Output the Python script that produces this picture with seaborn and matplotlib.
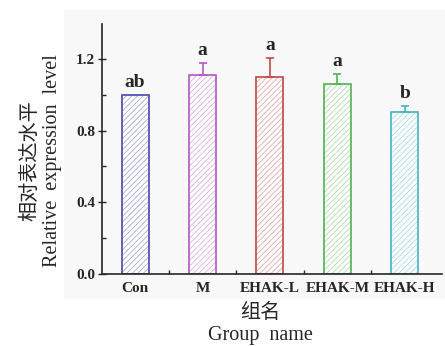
import matplotlib
matplotlib.use("Agg")
import matplotlib.pyplot as plt
import seaborn as sns
import pandas as pd
import numpy as np
from matplotlib.patches import Rectangle
from matplotlib.ticker import MultipleLocator

groups = ["Con", "M", "EHAK-L", "EHAK-M", "EHAK-H"]
values = [1.00, 1.11, 1.10, 1.062, 0.902]
errors = [0.0, 0.065, 0.107, 0.056, 0.034]
letters = ["ab", "a", "a", "a", "b"]
colors = ["#4b4bb0", "#b45ac4", "#c24a4a", "#52b452", "#45b4c4"]
hatch_colors = ["#a8a8dc", "#dcaee4", "#e4a8a8", "#aedcae", "#a6dce4"]

sns.set_style("ticks")
plt.rcParams["font.family"] = ["Liberation Serif", "Noto Sans CJK SC"]
plt.rcParams["hatch.linewidth"] = 0.6

fig = plt.figure(figsize=(4.45, 3.46), dpi=100)
fig.patch.set_facecolor("white")
fig.add_artist(Rectangle((64/445, 1-299/346), 1, 289/346, transform=fig.transFigure,
                         facecolor="#f8f8f8", edgecolor="none", zorder=0))
ax = fig.add_axes([102/445, 1-274/346, 340/445, 250/346])
ax.set_facecolor("none")

df = pd.DataFrame({"group": groups, "value": values})
sns.barplot(data=df, x="group", y="value", hue="group", palette=colors,
            legend=False, width=0.4, ax=ax, errorbar=None)
bars = list(ax.patches)
for p, c, hc in zip(bars, colors, hatch_colors):
    p.set_facecolor("white")
    p.set_hatch("//////")
    try:
        p.set_hatchcolor(hc)
        p.set_edgecolor(c)
    except AttributeError:
        p.set_edgecolor(hc)
        x0, w, h = p.get_x(), p.get_width(), p.get_height()
        ax.add_patch(Rectangle((x0, 0), w, h, facecolor="none", edgecolor=c,
                               linewidth=1.1, zorder=p.get_zorder() + 0.1))
    p.set_linewidth(1.1)

xs = np.arange(len(groups))
for x, v, e, c, t in zip(xs, values, errors, colors, letters):
    if e > 0:
        ax.errorbar(x, v, yerr=[[0], [e]], color=c, capsize=3, capthick=1.2,
                    elinewidth=1.2, fmt="none")
    ax.text(x, v + e + 0.022, t, ha="center", va="bottom", fontsize=14,
            fontweight="bold")

ax.set_xlim(-0.49, 4.55)
ax.set_ylim(0, 1.395)
ax.yaxis.set_minor_locator(MultipleLocator(0.2))
ax.set_yticks([0, 0.4, 0.8, 1.2])
ax.set_yticklabels(["0.0", "0.4", "0.8", "1.2"])
ax.set_xticks(xs)
ax.set_xticks(xs[:-1] + 0.5, minor=True)
ax.set_xticklabels(groups)
ax.tick_params(axis="x", which="both", direction="in", length=3, width=1)
ax.tick_params(axis="y", which="major", direction="inout", length=6, width=1)
ax.tick_params(axis="y", which="minor", direction="in", length=3, width=1)
for lab in ax.get_xticklabels() + ax.get_yticklabels():
    lab.set_fontweight("bold")
    lab.set_fontsize(11)
ax.tick_params(axis="x", pad=6)
ax.tick_params(axis="y", pad=2)
sns.despine(ax=ax)
for s in ["left", "bottom"]:
    ax.spines[s].set_linewidth(1.2)

ax.set_ylabel("相对表达水平\nRelative  expression  level", fontsize=14.5, linespacing=1.2)
ax.yaxis.set_label_coords(-0.118, 0.455)
ax.set_xlabel("组名\nGroup  name", fontsize=14.5, linespacing=1.25)
ax.xaxis.set_label_coords(0.465, -0.118)

fig.savefig("out.png", dpi=100)
